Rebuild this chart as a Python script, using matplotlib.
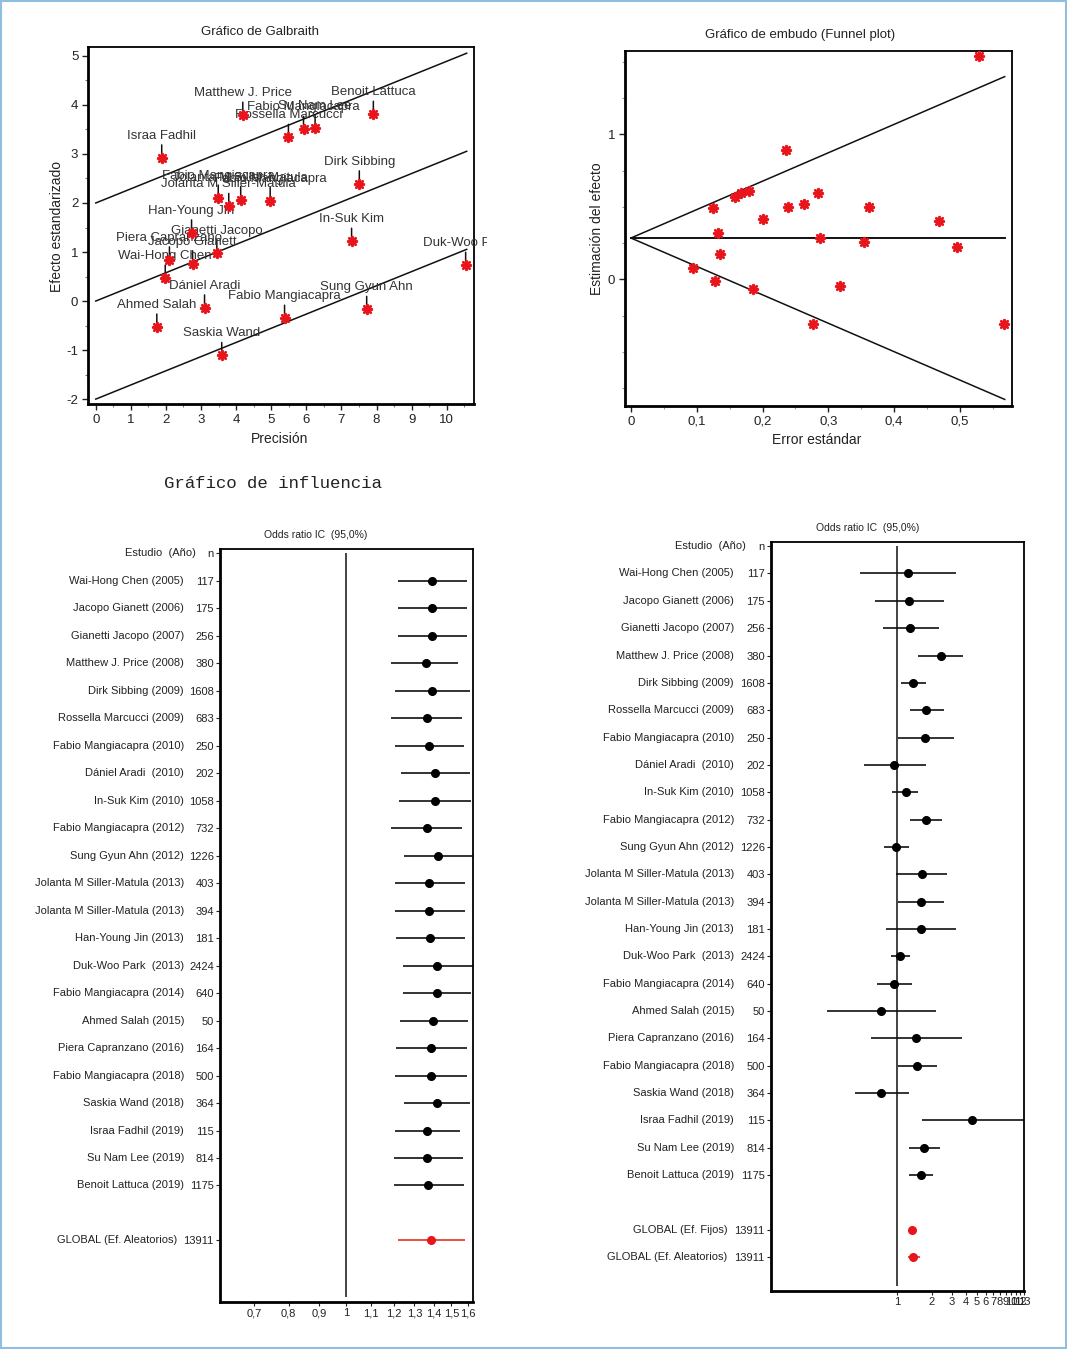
import matplotlib.pyplot as plt
import matplotlib.patches as mpatches
from matplotlib.transforms import blended_transform_factory, Bbox, TransformedBbox
from matplotlib.ticker import MultipleLocator, NullLocator

plt.rcParams['font.family'] = ['Liberation Sans', 'DejaVu Sans']
plt.rcParams['axes.unicode_minus'] = False
plt.rcParams['text.color'] = '#222222'
plt.rcParams['xtick.color'] = '#222222'
plt.rcParams['ytick.color'] = '#222222'

ROJO = '#e8161c'

# --- Grafico de Galbraith (precision, efecto estandarizado) ---
gal_nombres = ["Israa Fadhil", "Matthew J. Price", "Rossella Marcucci", "Fabio Mangiacapra",
               "Su Nam Lee", "Benoit Lattuca", "Dirk Sibbing", "Fabio Mangiacapra",
               "Jolanta M Siller-Matula", "Jolanta M Siller-Matula", "Fabio Mangiacapra",
               "Han-Young Jin", "Gianetti Jacopo", "Piera Capranzano", "Jacopo Gianett",
               "Wai-Hong Chen", "In-Suk Kim", "Duk-Woo Park", "Dániel Aradi", "Ahmed Salah",
               "Fabio Mangiacapra", "Sung Gyun Ahn", "Saskia Wand"]
gal_prec = [1.88, 4.19, 5.49, 5.92, 6.25, 7.91, 7.51, 3.49, 3.79, 4.13, 4.97, 2.73,
            3.45, 2.10, 2.76, 1.98, 7.29, 10.54, 3.10, 1.74, 5.38, 7.72, 3.59]
gal_z = [2.92, 3.79, 3.34, 3.50, 3.52, 3.81, 2.39, 2.10, 1.93, 2.07, 2.05, 1.39,
         0.99, 0.84, 0.76, 0.47, 1.22, 0.73, -0.14, -0.53, -0.35, -0.17, -1.11]
gal_pendiente = 0.289
gal_xmax = 10.57

# --- Grafico de embudo (error estandar, estimacion del efecto) ---
emb_se = [0.529, 0.235, 0.124, 0.132, 0.136, 0.095, 0.128, 0.158, 0.168, 0.179, 0.200, 0.185,
          0.238, 0.263, 0.284, 0.287, 0.276, 0.318, 0.354, 0.362, 0.468, 0.495, 0.567]
emb_ef = [1.543, 0.892, 0.490, 0.322, 0.172, 0.076, -0.011, 0.570, 0.598, 0.611, 0.416, -0.064,
          0.497, 0.517, 0.593, 0.285, -0.308, -0.046, 0.260, 0.497, 0.402, 0.223, -0.308]
emb_centro = 0.285
emb_semax = 0.568

# --- Estudios (forest plot / influencia) ---
estudios = ["Wai-Hong Chen (2005)", "Jacopo Gianett (2006)", "Gianetti Jacopo (2007)",
            "Matthew J. Price (2008)", "Dirk Sibbing (2009)", "Rossella Marcucci (2009)",
            "Fabio Mangiacapra (2010)", "Dániel Aradi  (2010)", "In-Suk Kim (2010)",
            "Fabio Mangiacapra (2012)", "Sung Gyun Ahn (2012)", "Jolanta M Siller-Matula (2013)",
            "Jolanta M Siller-Matula (2013)", "Han-Young Jin (2013)", "Duk-Woo Park  (2013)",
            "Fabio Mangiacapra (2014)", "Ahmed Salah (2015)", "Piera Capranzano (2016)",
            "Fabio Mangiacapra (2018)", "Saskia Wand (2018)", "Israa Fadhil (2019)",
            "Su Nam Lee (2019)", "Benoit Lattuca (2019)"]
n_est = [117, 175, 256, 380, 1608, 683, 250, 202, 1058, 732, 1226, 403, 394, 181, 2424,
         640, 50, 164, 500, 364, 115, 814, 1175]

# influencia (OR global al excluir cada estudio)
inf_or = [1.39, 1.39, 1.39, 1.36, 1.39, 1.363, 1.377, 1.405, 1.405, 1.363, 1.422, 1.377,
          1.377, 1.382, 1.416, 1.416, 1.399, 1.388, 1.384, 1.416, 1.365, 1.365, 1.37]
inf_lo = [1.218, 1.218, 1.218, 1.19, 1.207, 1.19, 1.204, 1.234, 1.223, 1.19, 1.25, 1.207,
          1.204, 1.213, 1.242, 1.242, 1.229, 1.213, 1.207, 1.25, 1.204, 1.20, 1.20]
inf_hi = [1.594, 1.594, 1.594, 1.54, 1.61, 1.563, 1.577, 1.61, 1.62, 1.563, 1.64, 1.58,
          1.58, 1.58, 1.64, 1.62, 1.60, 1.59, 1.59, 1.614, 1.55, 1.566, 1.575]
inf_global = [1.388, 1.218, 1.58]

# forest plot
fp_or = [1.23, 1.27, 1.30, 2.40, 1.36, 1.79, 1.75, 0.93, 1.18, 1.79, 0.97, 1.63, 1.60, 1.60,
         1.06, 0.93, 0.72, 1.45, 1.48, 0.72, 4.57, 1.72, 1.60]
fp_lo = [0.47, 0.64, 0.74, 1.53, 1.07, 1.29, 1.01, 0.51, 0.90, 1.29, 0.76, 0.98, 1.01, 0.80,
         0.885, 0.66, 0.24, 0.59, 1.02, 0.42, 1.63, 1.27, 1.27]
fp_hi = [3.26, 2.58, 2.33, 3.81, 1.77, 2.58, 3.15, 1.77, 1.52, 2.48, 1.27, 2.75, 2.58, 3.26,
         1.28, 1.33, 2.18, 3.68, 2.24, 1.27, 14.0, 2.37, 2.04]
fp_fijos = [1.33, 1.27, 1.39]
fp_aleat = [1.36, 1.24, 1.57]
n_total = 13911

fig = plt.figure(figsize=(10.67, 13.49), dpi=100)
fig.add_artist(mpatches.Rectangle((0.001, 0.001), 0.998, 0.998, transform=fig.transFigure,
                                  fill=False, edgecolor='#8fbfe0', linewidth=1.5))


def marco(ax):
    for lado in ['left', 'bottom']:
        ax.spines[lado].set_linewidth(2.0)
    for lado in ['top', 'right']:
        ax.spines[lado].set_linewidth(1.3)


def estrella(ax, x, y):
    ax.plot(x, y, 'o', color=ROJO, ms=5.5, zorder=4)
    ax.plot(x, y, marker=(8, 2, 0), ls='none', color=ROJO, ms=8, mew=1.3, zorder=4)


# ---------------- Galbraith ----------------
ax1 = fig.add_axes([0.0825, 0.7005, 0.3618, 0.2646])
marco(ax1)
for c in [-2, 0, 2]:
    ax1.plot([0, gal_xmax], [c, c + gal_pendiente * gal_xmax], color='#111111', lw=1.1)
for nom, x, y in zip(gal_nombres, gal_prec, gal_z):
    ax1.annotate('', xy=(x, y), xytext=(0, 13), textcoords='offset pixels',
                 arrowprops=dict(arrowstyle='-', color='#111111', lw=1.1, shrinkA=0, shrinkB=0))
    t = ax1.annotate(nom, xy=(x, y), xytext=(0, 22), textcoords='offset pixels',
                     ha='center', va='center', fontsize=9.5, color='#333333',
                     annotation_clip=False)
    t.set_clip_box(TransformedBbox(Bbox([[0, 0], [487 / 1067, 1]]), fig.transFigure))
    t.set_clip_on(True)
estrella(ax1, gal_prec, gal_z)
ax1.set_xlim(-0.22, 10.78)
ax1.set_ylim(-2.10, 5.18)
ax1.xaxis.set_major_locator(MultipleLocator(1))
ax1.xaxis.set_minor_locator(MultipleLocator(0.5))
ax1.yaxis.set_major_locator(MultipleLocator(1))
ax1.yaxis.set_minor_locator(MultipleLocator(0.5))
ax1.tick_params(labelsize=9.5, length=4, width=1, pad=3)
ax1.tick_params(which='minor', length=2.5, width=0.8, color='#777777')
fig.text(260 / 1067, 1 - 32 / 1349, 'Gráfico de Galbraith', ha='center', va='center', fontsize=9.5)
fig.text(280 / 1067, 1 - 439 / 1349, 'Precisión', ha='center', va='center', fontsize=10)
fig.text(57 / 1067, 1 - 227 / 1349, 'Efecto estandarizado', ha='center', va='center',
         fontsize=10, rotation=90)

# ---------------- Embudo ----------------
ax2 = fig.add_axes([0.5857, 0.699, 0.3627, 0.2632])
marco(ax2)
ax2.plot([0, emb_semax], [emb_centro, emb_centro], color='#111111', lw=1.4)
ax2.plot([0, emb_semax], [emb_centro, emb_centro + 1.96 * emb_semax], color='#111111', lw=1.1)
ax2.plot([0, emb_semax], [emb_centro, emb_centro - 1.96 * emb_semax], color='#111111', lw=1.1)
estrella(ax2, emb_se, emb_ef)
ax2.set_xlim(-0.0091, 0.579)
ax2.set_ylim(-0.874, 1.575)
ax2.set_xticks([0, 0.1, 0.2, 0.3, 0.4, 0.5])
ax2.set_xticklabels(['0', '0,1', '0,2', '0,3', '0,4', '0,5'])
ax2.xaxis.set_minor_locator(MultipleLocator(0.05))
ax2.set_yticks([0, 1])
ax2.set_yticklabels(['0', '1'])
ax2.yaxis.set_minor_locator(MultipleLocator(0.25))
ax2.tick_params(labelsize=9.5, length=4, width=1, pad=3)
ax2.tick_params(which='minor', length=2.5, width=0.8, color='#999999')
fig.text(800 / 1067, 1 - 35 / 1349, 'Gráfico de embudo (Funnel plot)', ha='center', va='center',
         fontsize=9.5)
fig.text(817 / 1067, 1 - 440 / 1349, 'Error estándar', ha='center', va='center', fontsize=10)
fig.text(597 / 1067, 1 - 229 / 1349, 'Estimación del efecto', ha='center', va='center',
         fontsize=10, rotation=90)

fig.text(273 / 1067, 1 - 483 / 1349, 'Gráfico de influencia', ha='center', va='center',
         fontsize=12.5, family='Liberation Mono')


# ---------------- forest plots ----------------
def forest(ax, orv, lo, hi, globales, nombres_glob, xlim, xticks, xticklabels, x_nom, x_glob):
    filas = list(range(1, len(estudios) + 1))
    ax.hlines(filas, lo, hi, color='#111111', lw=1.2, zorder=2)
    ax.plot(orv, filas, 'o', color='black', ms=5.5, zorder=3)
    y_glob = [25 + i for i in range(len(globales))]
    for yg, g in zip(y_glob, globales):
        ax.hlines(yg, g[1], g[2], color='#e0321e', lw=1.2, zorder=2)
        ax.plot(g[0], yg, 'o', color=ROJO, ms=5.5, zorder=3)
    ax.vlines(1, 0, 27.05, color='#222222', lw=1.2, zorder=1)
    ax.set_xscale('log')
    ax.set_xlim(*xlim)
    ax.set_ylim(27.24, -0.15)
    ax.set_xticks(xticks)
    ax.set_xticklabels(xticklabels)
    ax.xaxis.set_minor_locator(NullLocator())
    ax.set_yticks([0] + filas + y_glob)
    ax.set_yticklabels(['n'] + [str(v) for v in n_est] + [str(n_total)] * len(globales))
    ax.tick_params(labelsize=8, length=3, width=0.8, pad=1.5)
    marco(ax)
    tr = blended_transform_factory(ax.transAxes, ax.transData)
    ax.text(x_nom + 0.045, 0, 'Estudio  (Año)', transform=tr, ha='right', va='center', fontsize=8)
    for fila, nom in zip(filas, estudios):
        ax.text(x_nom, fila, nom, transform=tr, ha='right', va='center', fontsize=8)
    for yg, nom in zip(y_glob, nombres_glob):
        ax.text(x_glob, yg, nom, transform=tr, ha='right', va='center', fontsize=8)


ax3 = fig.add_axes([0.2062, 0.0348, 0.2371, 0.5582])
forest(ax3, inf_or, inf_lo, inf_hi, [inf_global], ['GLOBAL (Ef. Aleatorios)'],
       (0.614, 1.63), [0.7, 0.8, 0.9, 1, 1.1, 1.2, 1.3, 1.4, 1.5, 1.6],
       ['0,7', '0,8', '0,9', '1', '1,1', '1,2', '1,3', '1,4', '1,5', '1,6'], -0.142, -0.17)
fig.text(316 / 1067, 1 - 535 / 1349, 'Odds ratio IC  (95,0%)', ha='center', va='center',
         fontsize=7.5)

ax4 = fig.add_axes([0.7226, 0.043, 0.2371, 0.5552])
forest(ax4, fp_or, fp_lo, fp_hi, [fp_fijos, fp_aleat],
       ['GLOBAL (Ef. Fijos)', 'GLOBAL (Ef. Aleatorios)'],
       (0.077, 13.0), list(range(1, 14)), [str(v) for v in range(1, 14)], -0.146, -0.172)
fig.text(868 / 1067, 1 - 528 / 1349, 'Odds ratio IC  (95,0%)', ha='center', va='center',
         fontsize=7.5)

fig.savefig('out.png', dpi=100)
